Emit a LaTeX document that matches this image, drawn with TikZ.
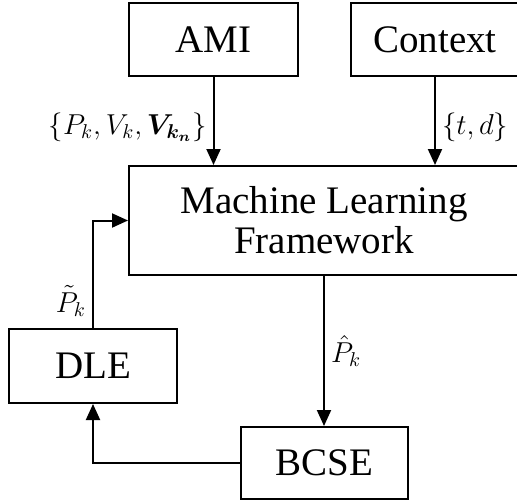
\documentclass[tikz,border=0pt]{standalone}
\usepackage{amsmath}
\usepackage{fontspec}
\setmainfont{Liberation Serif}
\usetikzlibrary{arrows.meta}
\tikzset{
	blk/.style={draw, line width=1pt, inner sep=0pt, align=center, font=\fontsize{19.5}{20}\selectfont},
	flow/.style={line width=1pt, -{Triangle[length=8pt,width=7pt]}},
	lbl/.style={font=\fontsize{14.5}{18}\selectfont, inner sep=3pt}
}

\begin{document}
\begin{tikzpicture}[x=0.5pt, y=-0.5pt]
			%%%%% START %%%%%
			\useasboundingbox (0, 0) rectangle (517, 502);
			
			\node[blk, minimum width=84.5pt, minimum height=36.5pt] (ami) at (213.5, 39.5) {AMI};
			\node[blk, minimum width=84pt, minimum height=36.5pt] (ctx) at (435, 39.5) {Context};
			
			\node[blk, minimum width=195pt, minimum height=54.5pt] (mlf) at (324, 220.5) {Machine Learning\\Framework};
			
			\node[blk, minimum width=84pt, minimum height=37pt] (dle) at (93, 366) {DLE};
			\node[blk, minimum width=83.5pt, minimum height=36pt] (bcse) at (324.5, 463) {BCSE};
			
			\draw[flow] (ami.south) -- node[lbl, left, pos=0.57] {$\{P_k, V_k, \boldsymbol{V_{k_n}}\}$} (ami.south |- mlf.north);
			\draw[flow] (ctx.south) -- node[lbl, right, pos=0.57] {$\{t, d\}$} (ctx.south |- mlf.north);
			
			\draw[flow] (mlf.south) -- node[lbl, right, pos=0.5] {$\hat{P}_k$} (mlf.south |- bcse.north);
			\draw[flow] (bcse.west) -| (dle.south);
			\draw[flow] (dle.north) |- node[lbl, left, pos=0.125] {$\tilde{P}_k$} (mlf.west);
			%%%%% END %%%%%
\end{tikzpicture}
\end{document}
